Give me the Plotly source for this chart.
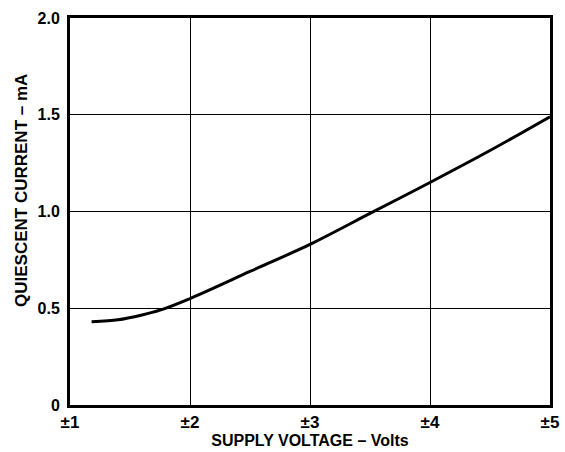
import plotly.graph_objects as go

# Data
supply_v = [1.18, 1.4, 1.6, 1.75, 2.0, 2.5, 3.0, 3.5, 4.0, 4.5, 5.0]
iq_ma = [0.43, 0.44, 0.465, 0.49, 0.55, 0.69, 0.83, 0.99, 1.15, 1.315, 1.49]

x_tick_vals = [1, 2, 3, 4, 5]
x_tick_text = ["±1", "±2", "±3", "±4", "±5"]
y_tick_vals = [0, 0.5, 1.0, 1.5, 2.0]
y_tick_text = ["0", "0.5", "1.0", "1.5", "2.0"]

x_title = "SUPPLY VOLTAGE – Volts"
y_title = "QUIESCENT CURRENT – mA"

fig = go.Figure()
fig.add_trace(go.Scatter(
    x=supply_v, y=iq_ma, mode="lines",
    line=dict(color="black", width=3, shape="spline", smoothing=0.8),
    showlegend=False, hoverinfo="skip"))

font_main = "Liberation Sans, Arial, sans-serif"
fig.update_layout(
    width=565, height=452,
    margin=dict(l=70, r=15, t=18, b=47, autoexpand=False),
    paper_bgcolor="white", plot_bgcolor="white",
    font=dict(family=font_main, color="black"),
)
fig.update_xaxes(
    range=[1, 5], tickvals=x_tick_vals,
    ticktext=["<b>%s</b>" % t for t in x_tick_text],
    showgrid=True, gridcolor="black", gridwidth=1,
    showline=True, linecolor="black", linewidth=3, mirror=True,
    ticks="", zeroline=False, automargin=False,
    tickfont=dict(size=17, family=font_main),
    ticklabelstandoff=0,
    title=dict(text="<b>%s</b>" % x_title, font=dict(size=16), standoff=3),
)
fig.update_yaxes(
    range=[0, 2], tickvals=y_tick_vals,
    ticktext=["<b>%s</b>" % t for t in y_tick_text],
    showgrid=True, gridcolor="black", gridwidth=1,
    showline=True, linecolor="black", linewidth=3, mirror=True,
    ticks="", zeroline=False, automargin=False,
    tickfont=dict(size=16, family=font_main),
    ticklabelstandoff=4,
)
fig.add_annotation(
    text="<b>%s</b>" % y_title, textangle=-90, showarrow=False,
    xref="paper", yref="paper", x=-0.1, y=0.553,
    xanchor="center", yanchor="middle",
    font=dict(size=17, family=font_main, color="black"),
)

fig.write_html("out.html", config={"displayModeBar": False},
               post_script="document.body.style.margin='0';")
